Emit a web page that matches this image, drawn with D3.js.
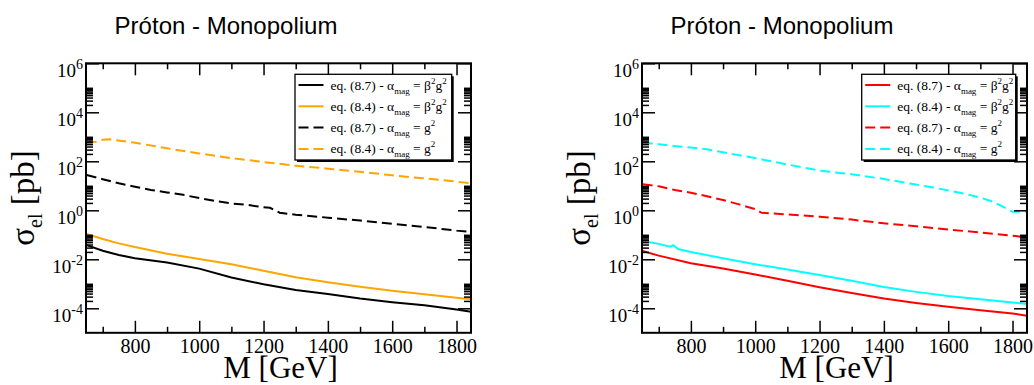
<!DOCTYPE html>
<html><head><meta charset="utf-8">
<script src="https://cdn.jsdelivr.net/npm/d3@7"></script>
<style>body{margin:0;background:#fff}svg{display:block}</style>
</head><body>
<svg id="c" width="1034" height="385"></svg>
<script>
// ---------- data ----------
const titleText = "Próton - Monopolium";
const xLabel = "M [GeV]";
const massMajorTicks = [800, 1000, 1200, 1400, 1600, 1800];
const massMinorTicks = [700, 900, 1100, 1300, 1500, 1700];
const sigmaMajorExp = [-4, -2, 0, 2, 4, 6];
const sigmaMinorMult = [2, 3, 4, 5, 6, 7, 8, 9, 10];

// left panel
const L84g2Mass  = [650, 680, 700, 720, 800, 900, 1000, 1100, 1200, 1300, 1400, 1500, 1600, 1700, 1800, 1845];
const L84g2Sigma = [603, 631, 759, 794, 575, 339, 209, 135, 93.3, 66.1, 50.1, 37.2, 26.9, 20.0, 14.8, 12.6];
const L87g2Mass  = [650, 700, 750, 800, 850, 900, 950, 1000, 1050, 1100, 1150, 1200, 1220, 1250, 1300, 1400, 1500, 1600, 1700, 1800, 1845];
const L87g2Sigma = [27.5, 18.6, 12.6, 9.12, 6.76, 5.37, 4.27, 3.16, 2.40, 1.91, 1.66, 1.32, 1.26, 0.794, 0.661, 0.501, 0.380, 0.282, 0.209, 0.148, 0.132];
const L84bgMass  = [650, 700, 750, 800, 900, 1000, 1100, 1200, 1300, 1400, 1500, 1600, 1700, 1800, 1845];
const L84bgSigma = [0.107, 0.0676, 0.0447, 0.0316, 0.0170, 0.0102, 0.00631, 0.00339, 0.00186, 0.00115, 7.59e-4, 5.25e-4, 3.72e-4, 2.69e-4, 2.34e-4];
const L87bgMass  = [650, 700, 750, 800, 900, 1000, 1100, 1200, 1300, 1400, 1500, 1600, 1700, 1800, 1845];
const L87bgSigma = [0.0380, 0.0224, 0.0151, 0.0110, 0.00741, 0.00417, 0.00182, 9.55e-4, 5.62e-4, 3.80e-4, 2.51e-4, 1.78e-4, 1.32e-4, 8.91e-5, 7.24e-5];

// right panel
const R84g2Mass  = [650, 700, 750, 800, 850, 900, 1000, 1100, 1200, 1300, 1400, 1500, 1550, 1650, 1700, 1740, 1770, 1800, 1845];
const R84g2Sigma = [575, 501, 417, 363, 309, 234, 135, 74.1, 41.7, 29.5, 19.1, 11.2, 8.71, 4.79, 3.31, 2.24, 1.41, 0.871, 0.891];
const R87g2Mass  = [650, 700, 750, 800, 850, 900, 950, 1000, 1020, 1100, 1200, 1300, 1400, 1500, 1600, 1700, 1800, 1845];
const R87g2Sigma = [11.7, 9.55, 6.76, 5.25, 3.72, 2.63, 1.74, 1.12, 0.794, 0.676, 0.550, 0.417, 0.295, 0.224, 0.166, 0.123, 0.0912, 0.0794];
const R84bgMass  = [650, 700, 735, 745, 760, 800, 900, 1000, 1100, 1200, 1300, 1400, 1500, 1600, 1700, 1800, 1845];
const R84bgSigma = [0.0562, 0.0427, 0.0324, 0.0380, 0.0263, 0.0200, 0.0110, 0.00631, 0.00380, 0.00229, 0.00132, 7.41e-4, 4.68e-4, 3.16e-4, 2.34e-4, 1.74e-4, 1.48e-4];
const R87bgMass  = [650, 700, 800, 900, 1000, 1100, 1200, 1300, 1400, 1500, 1600, 1700, 1800, 1845];
const R87bgSigma = [0.0219, 0.0141, 0.00692, 0.00417, 0.00240, 0.00132, 7.24e-4, 4.17e-4, 2.51e-4, 1.66e-4, 1.15e-4, 8.32e-5, 6.17e-5, 5.01e-5];

const legendEq = ["8.7", "8.4", "8.7", "8.4"];
const legendBeta = [true, true, false, false];

// ---------- drawing ----------
const svg = d3.select("#c");
const serif = "'Liberation Serif','Times New Roman',serif";
const sans = "'Liberation Sans',Arial,sans-serif";

function makeSeries(m, s) { return m.map((v, i) => ({m: v, s: s[i]})); }

function drawPanel(cfg) {
  const x0 = cfg.left, x1 = cfg.left + 385, y0 = 63.3, y1 = 332.8;
  const x = d3.scaleLinear().domain([648, 1845]).range([x0, x1]);
  const y = d3.scaleLog().domain([1e-5, 1e6]).range([y1, y0]);
  const g = svg.append("g");

  const clipId = "clip" + cfg.left;
  g.append("clipPath").attr("id", clipId).append("rect")
    .attr("x", x0).attr("y", y0).attr("width", x1 - x0).attr("height", y1 - y0);

  const line = d3.line().x(d => x(d.m)).y(d => y(d.s));
  const curves = g.append("g").attr("clip-path", `url(#${clipId})`);
  cfg.series.forEach(s => {
    curves.append("path").datum(makeSeries(s.mass, s.sigma))
      .attr("d", line).attr("fill", "none").attr("stroke", s.color)
      .attr("stroke-width", 2).attr("stroke-dasharray", s.dashed ? "10,5" : null);
  });

  const styleAxis = a => { a.select(".domain").remove(); a.selectAll(".tick line").attr("stroke", "#000").attr("stroke-width", 1.5); };

  // bottom
  const bx = g.append("g").attr("transform", `translate(0,${y1})`)
    .call(d3.axisBottom(x).tickValues(massMajorTicks).tickSizeInner(-12).tickSizeOuter(0).tickPadding(6).tickFormat(d => String(d)));
  styleAxis(bx);
  bx.selectAll("text").attr("font-family", serif).attr("font-size", 20).attr("fill", "#000");
  const bxm = g.append("g").attr("transform", `translate(0,${y1})`)
    .call(d3.axisBottom(x).tickValues(massMinorTicks).tickSizeInner(-6).tickSizeOuter(0).tickFormat(""));
  styleAxis(bxm);
  // top
  const tx = g.append("g").attr("transform", `translate(0,${y0})`)
    .call(d3.axisTop(x).tickValues(massMajorTicks).tickSizeInner(-12).tickSizeOuter(0).tickFormat(""));
  styleAxis(tx);
  const txm = g.append("g").attr("transform", `translate(0,${y0})`)
    .call(d3.axisTop(x).tickValues(massMinorTicks).tickSizeInner(-6).tickSizeOuter(0).tickFormat(""));
  styleAxis(txm);

  const majorVals = sigmaMajorExp.map(e => Math.pow(10, e));
  const minorVals = [];
  sigmaMajorExp.slice(0, -1).forEach(e => sigmaMinorMult.forEach(m => minorVals.push(m * Math.pow(10, e))));

  // left
  const ly = g.append("g").attr("transform", `translate(${x0},0)`)
    .call(d3.axisLeft(y).tickValues(majorVals).tickSizeInner(-13).tickSizeOuter(0).tickPadding(3).tickFormat(""));
  styleAxis(ly);
  ly.selectAll(".tick text").each(function(d, i) {
    const t = d3.select(this).attr("font-family", serif).attr("font-size", 19).attr("fill", "#000")
      .attr("dy", null).attr("y", 13.5).attr("text-anchor", "end");
    t.text(null);
    t.append("tspan").text("10");
    t.append("tspan").attr("font-size", 14).attr("dy", -8).text(String(sigmaMajorExp[i]));
  });
  const lym = g.append("g").attr("transform", `translate(${x0},0)`)
    .call(d3.axisLeft(y).tickValues(minorVals).tickSizeInner(-7).tickSizeOuter(0).tickFormat(""));
  styleAxis(lym);
  // right
  const ry = g.append("g").attr("transform", `translate(${x1},0)`)
    .call(d3.axisRight(y).tickValues(majorVals).tickSizeInner(-13).tickSizeOuter(0).tickFormat(""));
  styleAxis(ry);
  const rym = g.append("g").attr("transform", `translate(${x1},0)`)
    .call(d3.axisRight(y).tickValues(minorVals).tickSizeInner(-7).tickSizeOuter(0).tickFormat(""));
  styleAxis(rym);

  // frame
  g.append("rect").attr("x", x0).attr("y", y0).attr("width", x1 - x0).attr("height", y1 - y0)
    .attr("fill", "none").attr("stroke", "#000").attr("stroke-width", 2);

  // title
  g.append("text").attr("x", x0 + 140).attr("y", 34).attr("text-anchor", "middle")
    .attr("font-family", sans).attr("font-size", 24).attr("fill", "#000").text(titleText);

  // x label
  g.append("text").attr("x", (x0 + x1) / 2 + 2).attr("y", 378).attr("text-anchor", "middle")
    .attr("font-family", serif).attr("font-size", 31).attr("fill", "#000").text(xLabel);

  // y label
  const yl = g.append("text").attr("transform", `translate(${x0 - 52},198) rotate(-90)`)
    .attr("text-anchor", "middle").attr("font-family", serif).attr("font-size", 33).attr("fill", "#000");
  yl.append("tspan").text("σ");
  yl.append("tspan").attr("font-size", 20).attr("dy", 8).text("el");
  yl.append("tspan").attr("dy", -8).text(" [pb]");

  // legend
  const lx = cfg.legendX, ly0 = 74.3, lw = cfg.legendW, lh = 85.7;
  const lg = g.append("g");
  lg.append("rect").attr("x", lx + 2).attr("y", ly0 + 2).attr("width", lw).attr("height", lh).attr("fill", "#000");
  lg.append("rect").attr("x", lx).attr("y", ly0).attr("width", lw).attr("height", lh)
    .attr("fill", "#fff").attr("stroke", "#000").attr("stroke-width", 1.3);
  cfg.series.forEach((s, i) => {
    const yy = 85 + i * 21.3;
    lg.append("line").attr("x1", lx + 3.5).attr("x2", lx + 28.5).attr("y1", yy).attr("y2", yy)
      .attr("stroke", s.color).attr("stroke-width", 2).attr("stroke-dasharray", s.dashed ? "10,5" : null);
    const t = lg.append("text").attr("x", lx + 35.5).attr("y", yy + 4.5)
      .attr("font-family", serif).attr("font-size", 13.5).attr("fill", "#000");
    t.append("tspan").text(`eq. (${legendEq[i]}) - α`);
    t.append("tspan").attr("font-size", 9).attr("dy", 4).text("mag");
    if (legendBeta[i]) {
      t.append("tspan").attr("dy", -4).text(" = β");
      t.append("tspan").attr("font-size", 9).attr("dy", -6).text("2");
      t.append("tspan").attr("dy", 6).text("g");
      t.append("tspan").attr("font-size", 9).attr("dy", -6).text("2");
    } else {
      t.append("tspan").attr("dy", -4).text(" = g");
      t.append("tspan").attr("font-size", 9).attr("dy", -6).text("2");
    }
  });
}

drawPanel({
  left: 86, legendX: 295, legendW: 156.7,
  series: [
    {mass: L87bgMass, sigma: L87bgSigma, color: "#000000", dashed: false},
    {mass: L84bgMass, sigma: L84bgSigma, color: "#FFA500", dashed: false},
    {mass: L87g2Mass, sigma: L87g2Sigma, color: "#000000", dashed: true},
    {mass: L84g2Mass, sigma: L84g2Sigma, color: "#FFA500", dashed: true}
  ]
});
drawPanel({
  left: 642, legendX: 861.7, legendW: 154,
  series: [
    {mass: R87bgMass, sigma: R87bgSigma, color: "#FF0000", dashed: false},
    {mass: R84bgMass, sigma: R84bgSigma, color: "#00FFFF", dashed: false},
    {mass: R87g2Mass, sigma: R87g2Sigma, color: "#FF0000", dashed: true},
    {mass: R84g2Mass, sigma: R84g2Sigma, color: "#00FFFF", dashed: true}
  ]
});
</script>
</body></html>
